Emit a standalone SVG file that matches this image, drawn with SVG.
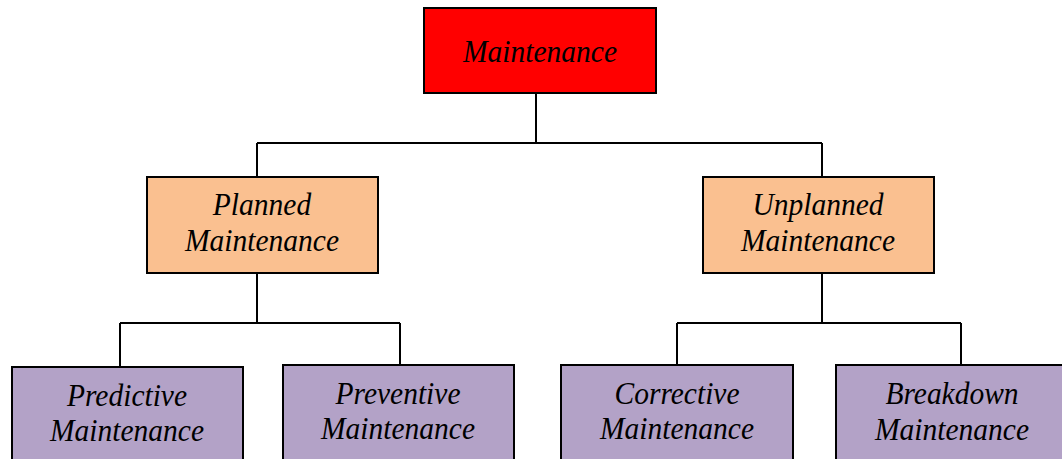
<svg xmlns="http://www.w3.org/2000/svg" width="1062" height="459" viewBox="0 0 1062 459">
  <style>
    .box { stroke: #000; stroke-width: 2; }
    .root { fill: #ff0000; }
    .mid { fill: #fac090; }
    .leaf { fill: #b3a2c7; }
    .lbl { font-family: "Liberation Serif", "Times New Roman", serif; font-style: italic; font-size: 29.5px; fill: #000; text-anchor: middle; }
    .wire { fill: none; stroke: #000; stroke-width: 2; }
  </style>
  <rect width="1062" height="459" fill="#fff"/>

  <!-- tree connectors -->
  <g id="connectors" class="wire">
    <path d="M536,93 V143 M257,143 H822 M257,143 V177 M822,143 V177"/>
    <path d="M257,273 V323 M120,323 H400 M120,323 V367 M400,323 V365"/>
    <path d="M822,273 V323 M677,323 H961 M677,323 V365 M961,323 V365"/>
  </g>

  <!-- labels are set slightly tall: each text is scaled 1.08 vertically about its baseline -->
  <g id="maintenance">
    <rect class="box root" x="424" y="8" width="232" height="85"/>
    <text class="lbl" transform="translate(540,62) scale(1,1.08)">Maintenance</text>
  </g>

  <g id="planned">
    <rect class="box mid" x="147" y="177" width="231" height="96"/>
    <text class="lbl" transform="translate(262,215) scale(1,1.08)">Planned</text>
    <text class="lbl" transform="translate(262,251) scale(1,1.08)">Maintenance</text>
  </g>

  <g id="unplanned">
    <rect class="box mid" x="703" y="177" width="231" height="96"/>
    <text class="lbl" transform="translate(818,215) scale(1,1.08)">Unplanned</text>
    <text class="lbl" transform="translate(818,251) scale(1,1.08)">Maintenance</text>
  </g>

  <g id="predictive">
    <rect class="box leaf" x="12" y="367" width="231" height="100"/>
    <text class="lbl" transform="translate(127,406) scale(1,1.08)">Predictive</text>
    <text class="lbl" transform="translate(127,441) scale(1,1.08)">Maintenance</text>
  </g>

  <g id="preventive">
    <rect class="box leaf" x="283" y="365" width="231" height="100"/>
    <text class="lbl" transform="translate(398,404) scale(1,1.08)">Preventive</text>
    <text class="lbl" transform="translate(398,439) scale(1,1.08)">Maintenance</text>
  </g>

  <g id="corrective">
    <rect class="box leaf" x="561" y="365" width="232" height="100"/>
    <text class="lbl" transform="translate(677,404) scale(1,1.08)">Corrective</text>
    <text class="lbl" transform="translate(677,439) scale(1,1.08)">Maintenance</text>
  </g>

  <g id="breakdown">
    <rect class="box leaf" x="836" y="365" width="240" height="100"/>
    <text class="lbl" transform="translate(952,404) scale(1,1.08)">Breakdown</text>
    <text class="lbl" transform="translate(952,440) scale(1,1.08)">Maintenance</text>
  </g>
</svg>
